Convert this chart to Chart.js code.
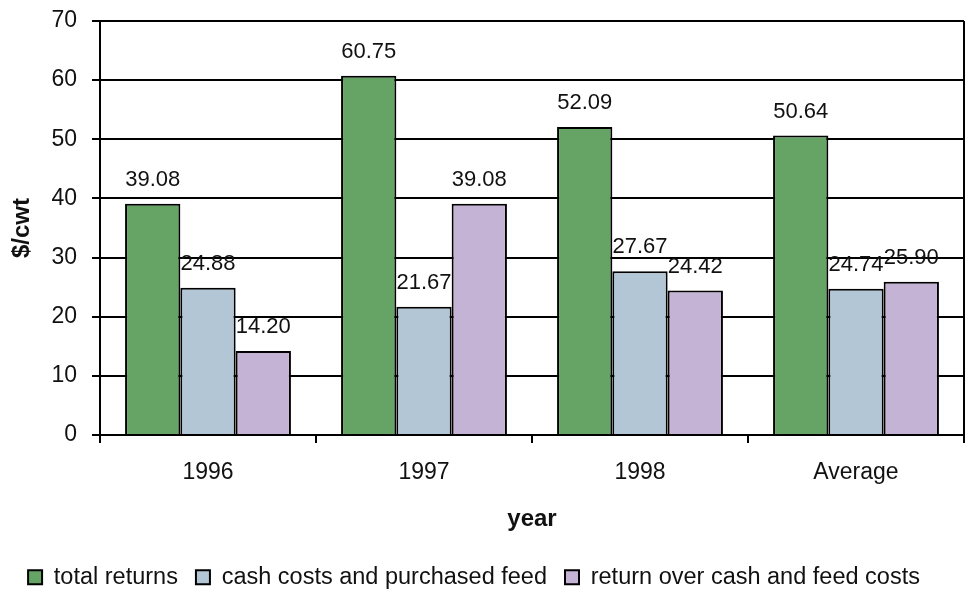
<!DOCTYPE html>
<html>
<head>
<meta charset="utf-8">
<script src="https://cdn.jsdelivr.net/npm/chart.js@4"></script>
<style>
html,body{margin:0;padding:0;background:#fff;}
#wrap{width:976px;height:589px;}
</style>
</head>
<body>
<div id="wrap"><canvas id="c" width="976" height="589"></canvas></div>
<script>
const categories = ['1996', '1997', '1998', 'Average'];
const totalReturns = [39.08, 60.75, 52.09, 50.64];
const cashCosts = [24.88, 21.67, 27.67, 24.74];
const returnOver = [14.20, 39.08, 24.42, 25.90];
const seriesNames = ['total returns', 'cash costs and purchased feed', 'return over cash and feed costs'];
const yTicks = [0, 10, 20, 30, 40, 50, 60, 70];

const FONT = "'Liberation Sans', Arial, sans-serif";

const valueLabels = {
  id: 'valueLabels',
  afterDatasetsDraw(chart) {
    const ctx = chart.ctx;
    ctx.save();
    ctx.font = '22px ' + FONT;
    ctx.fillStyle = '#111';
    ctx.textAlign = 'center';
    ctx.textBaseline = 'alphabetic';
    chart.data.datasets.forEach((ds, i) => {
      const meta = chart.getDatasetMeta(i);
      meta.data.forEach((el, j) => {
        ctx.fillText(ds.data[j].toFixed(2), el.x, el.y - 18);
      });
    });
    ctx.restore();
  }
};

const rightBorder = {
  id: 'rightBorder',
  afterLayout(chart) {
    const lg = chart.legend;
    if (lg) {
      lg.top += 10; lg.bottom += 10;
      lg.left -= 8; lg.right -= 8;
    }
  },
  afterDraw(chart) {
    const a = chart.chartArea;
    const ctx = chart.ctx;
    ctx.save();
    ctx.strokeStyle = '#000';
    ctx.lineWidth = 2;
    ctx.beginPath();
    ctx.moveTo(a.right, a.top);
    ctx.lineTo(a.right, a.bottom);
    ctx.stroke();
    ctx.restore();
  }
};

new Chart(document.getElementById('c'), {
  type: 'bar',
  data: {
    labels: categories,
    datasets: [
      { label: seriesNames[0], data: totalReturns, backgroundColor: '#66A466', borderColor: '#000', borderWidth: 2 },
      { label: seriesNames[1], data: cashCosts, backgroundColor: '#B3C6D5', borderColor: '#000', borderWidth: 2 },
      { label: seriesNames[2], data: returnOver, backgroundColor: '#C5B3D6', borderColor: '#000', borderWidth: 2 }
    ]
  },
  options: {
    responsive: false,
    animation: false,
    devicePixelRatio: 1,
    layout: { padding: { top: 21, right: 12, left: 0, bottom: 0 } },
    datasets: { bar: { categoryPercentage: 0.768, barPercentage: 1.0 } },
    plugins: {
      tooltip: { enabled: false },
      legend: {
        position: 'bottom',
        labels: {
          font: { size: 23.5, family: FONT },
          color: '#111',
          boxWidth: 14,
          boxHeight: 14,
          padding: 18
        }
      }
    },
    scales: {
      x: {
        grid: { offset: true, drawOnChartArea: false, drawTicks: true, tickLength: 8, color: '#000', lineWidth: 2 },
        border: { color: '#000', width: 2 },
        ticks: { font: { size: 23, family: FONT }, color: '#111', padding: 16, maxRotation: 0 },
        title: { display: true, text: 'year', font: { size: 24, weight: 'bold', family: FONT }, color: '#111', padding: { top: 4, bottom: 4 } },
        afterFit(scale) {
          const lh = scale.chart.legend ? scale.chart.legend.height : 40;
          scale.height = 589 - 435 - lh;
        }
      },
      y: {
        min: 0,
        max: 70,
        afterBuildTicks(scale) { scale.ticks = yTicks.map(v => ({ value: v })); },
        grid: { color: '#000', lineWidth: 2, tickLength: 8 },
        border: { color: '#000', width: 2 },
        ticks: { font: { size: 23, family: FONT, lineHeight: 0.5 }, color: '#111', padding: 15 },
        title: { display: true, text: '$/cwt', font: { size: 24, weight: 'bold', family: FONT }, color: '#111', padding: { top: 8, bottom: 8 } },
        afterFit(scale) { scale.width = 100; }
      }
    }
  },
  plugins: [valueLabels, rightBorder]
});
</script>
</body>
</html>
